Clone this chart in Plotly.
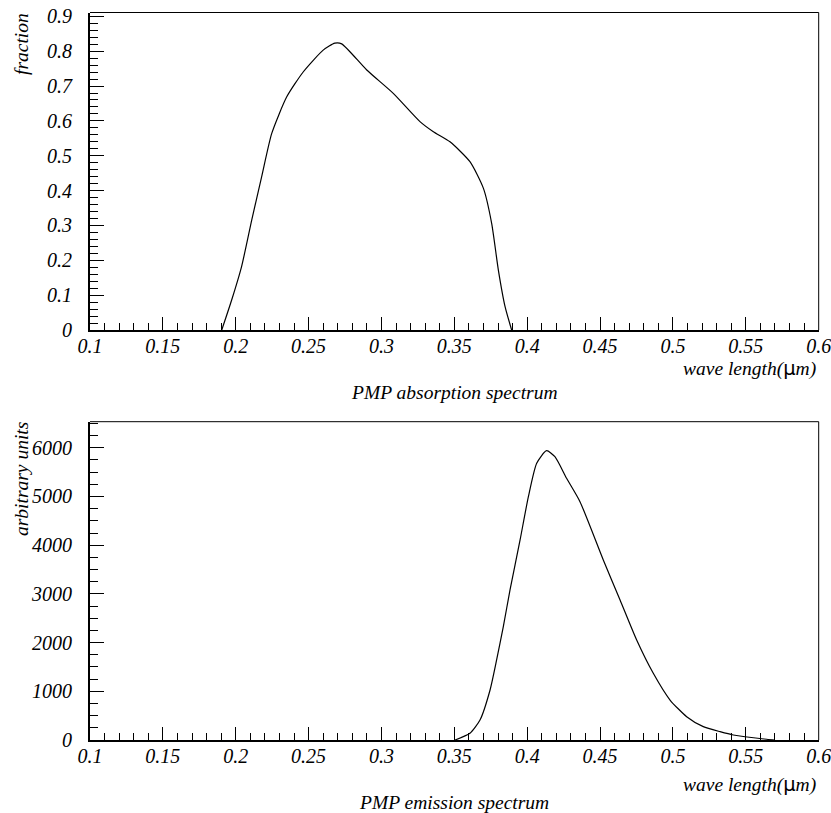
import plotly.graph_objects as go

# ---- data ----
abs_wavelength = [0.1904, 0.1972, 0.204, 0.211, 0.2178, 0.2247, 0.235, 0.2464, 0.260, 0.268,
                  0.2727, 0.2899, 0.3081, 0.3264, 0.3356, 0.347, 0.3607, 0.3699, 0.3756,
                  0.3802, 0.3848, 0.3893]
abs_fraction = [0.0, 0.086, 0.182, 0.316, 0.44, 0.564, 0.669, 0.741, 0.803, 0.823,
                0.821, 0.746, 0.679, 0.598, 0.569, 0.540, 0.483, 0.407, 0.306,
                0.172, 0.067, 0.0]

em_wavelength = [0.3505, 0.3607, 0.3676, 0.3745, 0.379, 0.3836, 0.3882, 0.3951, 0.4008, 0.4065,
                 0.4133, 0.419, 0.427, 0.4362, 0.4522, 0.4637, 0.4751, 0.4865, 0.498, 0.5094,
                 0.5208, 0.5323, 0.5414, 0.5643, 0.57]
em_intensity = [0, 137, 410, 1027, 1643, 2327, 3080, 4107, 4996, 5682,
                5940, 5817, 5373, 4893, 3696, 2875, 2053, 1369, 821, 479,
                274, 171, 103, 15, 0]

x_tickvals = [0.1, 0.15, 0.2, 0.25, 0.3, 0.35, 0.4, 0.45, 0.5, 0.55, 0.6]
x_ticktext = ["0.1", "0.15", "0.2", "0.25", "0.3", "0.35", "0.4", "0.45", "0.5", "0.55", "0.6"]
top_y_tickvals = [0, 0.1, 0.2, 0.3, 0.4, 0.5, 0.6, 0.7, 0.8, 0.9]
top_y_ticktext = ["0", "0.1", "0.2", "0.3", "0.4", "0.5", "0.6", "0.7", "0.8", "0.9"]
bot_y_tickvals = [0, 1000, 2000, 3000, 4000, 5000, 6000]
bot_y_ticktext = ["0", "1000", "2000", "3000", "4000", "5000", "6000"]

FONT = "'Liberation Serif', 'Times New Roman', Times, serif"
W, H = 831, 813

fig = go.Figure()
fig.add_trace(go.Scatter(x=abs_wavelength, y=abs_fraction, mode="lines",
                         line=dict(color="black", width=1.2, shape="spline", smoothing=0.6),
                         xaxis="x", yaxis="y", showlegend=False, hoverinfo="skip"))
fig.add_trace(go.Scatter(x=em_wavelength, y=em_intensity, mode="lines",
                         line=dict(color="black", width=1.2, shape="spline", smoothing=0.6),
                         xaxis="x2", yaxis="y2", showlegend=False, hoverinfo="skip"))

tickfont = dict(family=FONT, size=20, color="black", style="italic")

def xaxis(anchor):
    return dict(range=[0.1, 0.6], domain=[90 / W, 818.7 / W], anchor=anchor, automargin=False,
                tickmode="array", tickvals=x_tickvals, ticktext=x_ticktext,
                ticks="inside", ticklen=13, tickwidth=1, tickcolor="black",
                minor=dict(dtick=0.01, ticks="inside", ticklen=7, tickwidth=1, tickcolor="black", showgrid=False),
                showline=True, linecolor="black", linewidth=2, ticklabeloverflow="allow",
                showgrid=False, zeroline=False, tickfont=tickfont, ticklabelstandoff=-3)

def yaxis(anchor, rng, dom, tv, tt, mdt):
    return dict(range=rng, domain=dom, anchor=anchor, automargin=False,
                tickmode="array", tickvals=tv, ticktext=tt,
                ticks="inside", ticklen=14, tickwidth=1, tickcolor="black",
                minor=dict(dtick=mdt, tick0=0, ticks="inside", ticklen=8, tickwidth=1, tickcolor="black", showgrid=False),
                showline=True, linecolor="black", linewidth=2, ticklabeloverflow="allow",
                showgrid=False, zeroline=False, tickfont=tickfont, ticklabelstandoff=12)

fig.update_layout(
    template="none",
    width=W, height=H,
    margin=dict(l=0, r=0, t=0, b=0, pad=0),
    paper_bgcolor="white", plot_bgcolor="white",
    font=dict(family=FONT),
    xaxis=xaxis("y"),
    yaxis=yaxis("x", [0, 0.911], [1 - 330 / H, 1 - 12.5 / H], top_y_tickvals, top_y_ticktext, 0.02),
    xaxis2=xaxis("y2"),
    yaxis2=yaxis("x2", [0, 6535], [1 - 740 / H, 1 - 421.7 / H], bot_y_tickvals, bot_y_ticktext, 250),
)

# frame top/right edges
for xr, yr in (("x", "y"), ("x2", "y2")):
    fig.add_shape(type="line", xref=f"{xr} domain", yref=f"{yr} domain", x0=0, x1=1, y0=1, y1=1,
                  line=dict(color="black", width=1))
    fig.add_shape(type="line", xref=f"{xr} domain", yref=f"{yr} domain", x0=1, x1=1, y0=0, y1=1,
                  line=dict(color="black", width=1))

tfont = dict(family=FONT, size=19.5, color="black", style="italic")
mu = "<span style='font-family:DejaVu Sans;font-style:normal'>μ</span>"

def ann(text, xpx, ypx, xanchor="center", yanchor="middle", angle=0):
    fig.add_annotation(text=text, xref="paper", yref="paper", x=xpx / W, y=1 - ypx / H,
                       xanchor=xanchor, yanchor=yanchor, textangle=angle, showarrow=False,
                       font=tfont)

ann("fraction", 21, 11, yanchor="top", angle=-90)
ann("arbitrary units", 21, 420, yanchor="top", angle=-90)
ann(f"wave length({mu}m)", 818, 368, xanchor="right")
ann(f"wave length({mu}m)", 818, 784, xanchor="right")
ann("PMP absorption spectrum", 454, 392)
ann("PMP emission spectrum", 454, 802)

fig.write_html("out.html", config={"displayModeBar": False},
               post_script="document.body.style.margin='0';document.body.style.padding='0';")
